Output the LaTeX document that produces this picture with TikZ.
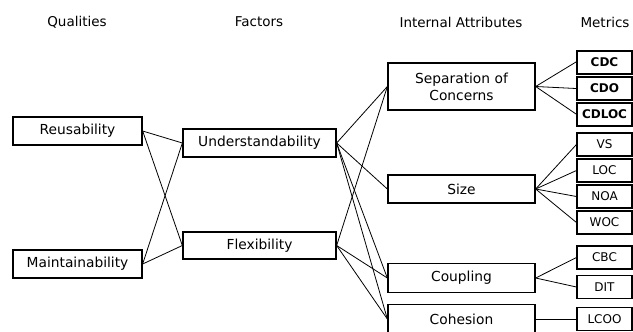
\documentclass[tikz,border=0pt]{standalone}
\usepackage{fontspec}
\setmainfont{DejaVu Sans}
\begin{document}
\begin{tikzpicture}[x=1bp,y=-1bp,
  hdr/.style={font=\fontsize{13.5bp}{16.5bp}\selectfont},
  qbox/.style={draw,line width=1.3bp,inner sep=0pt,minimum width=129bp,minimum height=28bp,font=\fontsize{13.8bp}{16.8bp}\selectfont},
  fbox/.style={qbox,minimum width=153bp},
  abox/.style={qbox,minimum width=147bp,align=center},
  mbox/.style={draw,line width=1.1bp,inner sep=0pt,minimum width=55bp,minimum height=23bp,font=\fontsize{12bp}{14bp}\selectfont},
  mbold/.style={mbox,line width=2bp,font=\fontsize{12bp}{14bp}\selectfont\bfseries},
  conn/.style={line width=0.8bp}]
\useasboundingbox (0,0) rectangle (633,331);
% headers
\node[hdr] (hq) at (77,22) {Qualities};
\node[hdr] (hf) at (259,22) {Factors};
\node[hdr] (ha) at (461,22) {Internal Attributes};
\node[hdr] (hm) at (605,22) {Metrics};
% qualities
\node[qbox] (reus) at (77.5,131) {Reusability};
\node[qbox] (maint) at (77.5,264) {Maintainability};
% factors
\node[fbox] (under) at (259.5,143) {Understandability};
\node[fbox,minimum height=27bp] (flex) at (259.5,245.5) {Flexibility};
% attributes
\node[abox,minimum height=47bp] (sep) at (461.5,86.5) {Separation of\\Concerns};
\node[abox] (size) at (461.5,189) {Size};
\node[abox,minimum height=29bp] (coup) at (461.5,278) {Coupling};
\node[abox,minimum height=29bp] (coh) at (461.5,319) {Cohesion};
% metrics
\node[mbold] (cdc) at (604.5,62) {CDC};
\node[mbold] (cdo) at (604.5,88.5) {CDO};
\node[mbold] (cdloc) at (604.5,114) {CDLOC};
\node[mbox] (vs) at (604.5,144.5) {VS};
\node[mbox] (loc) at (604.5,170.5) {LOC};
\node[mbox] (noa) at (604.5,196.5) {NOA};
\node[mbox] (woc) at (604.5,222.5) {WOC};
\node[mbox] (cbc) at (604.5,257.5) {CBC};
\node[mbox] (dit) at (604.5,287) {DIT};
\node[mbox] (lcoo) at (604.5,319) {LCOO};
% connectors
\draw[conn] (reus.east) -- (under.west);
\draw[conn] (reus.east) -- (flex.west);
\draw[conn] (maint.east) -- (under.west);
\draw[conn] (maint.east) -- (flex.west);
\draw[conn] (under.east) -- (sep.west);
\draw[conn] (under.east) -- (size.west);
\draw[conn] (under.east) -- (coup.west);
\draw[conn] (under.east) -- (coh.west);
\draw[conn] (flex.east) -- (sep.west);
\draw[conn] (flex.east) -- (coup.west);
\draw[conn] (flex.east) -- (coh.west);
\draw[conn] (sep.east) -- (cdc.west);
\draw[conn] (sep.east) -- (cdo.west);
\draw[conn] (sep.east) -- (cdloc.west);
\draw[conn] (size.east) -- (vs.west);
\draw[conn] (size.east) -- (loc.west);
\draw[conn] (size.east) -- (noa.west);
\draw[conn] (size.east) -- (woc.west);
\draw[conn] (coup.east) -- (cbc.west);
\draw[conn] (coup.east) -- (dit.west);
\draw[conn] (coh.east) -- (lcoo.west);
\end{tikzpicture}
\end{document}
